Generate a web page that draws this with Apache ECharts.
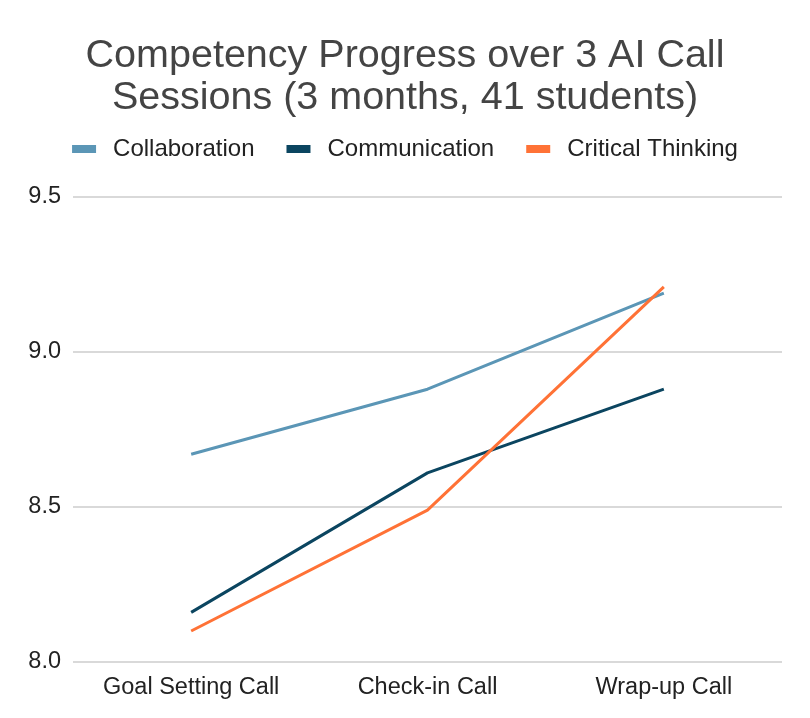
<!DOCTYPE html>
<html>
<head>
<meta charset="utf-8">
<script src="https://cdn.jsdelivr.net/npm/echarts@6/dist/echarts.min.js"></script>
<style>
  html, body { margin: 0; padding: 0; background: #fff; }
  #chart { width: 810px; height: 718px; }
</style>
</head>
<body>
<div id="chart"></div>
<script>
// categories and series values
const sessions = ['Goal Setting Call', 'Check-in Call', 'Wrap-up Call']
const collaboration = [8.67, 8.88, 9.19]
const communication = [8.16, 8.61, 8.88]
const criticalThinking = [8.10, 8.49, 9.21]

const font = 'Liberation Sans, Arial, sans-serif'

const chart = echarts.init(document.getElementById('chart'))

function line(name, data, color) {
  return {
    name: name,
    type: 'line',
    data: data,
    symbol: 'none',
    lineStyle: { width: 3, color: color },
    itemStyle: { color: color }
  }
}

chart.setOption({
  animation: false,
  title: {
    text: 'Competency Progress over 3 AI Call\nSessions (3 months, 41 students)',
    left: 'center',
    top: 30,
    textStyle: {
      fontFamily: font,
      fontSize: 39.5,
      fontWeight: 'normal',
      color: '#444',
      lineHeight: 42
    }
  },
  legend: {
    top: 132,
    left: 'center',
    icon: 'rect',
    itemWidth: 24,
    itemHeight: 8,
    itemGap: 32,
    textStyle: { fontFamily: font, fontSize: 24, color: '#222', padding: [0, 0, 0, 12] },
    data: ['Collaboration', 'Communication', 'Critical Thinking']
  },
  grid: { left: 73, right: 28, top: 197, bottom: 56 },
  xAxis: {
    type: 'category',
    data: sessions,
    boundaryGap: true,
    axisLine: { show: false },
    axisTick: { show: false },
    axisLabel: { fontFamily: font, fontSize: 23.5, color: '#222', margin: 14 }
  },
  yAxis: {
    type: 'value',
    min: 8.0,
    max: 9.5,
    interval: 0.5,
    axisLine: { show: false },
    axisTick: { show: false },
    axisLabel: {
      fontFamily: font,
      fontSize: 23.5,
      color: '#222',
      margin: 12,
      formatter: function (v) { return v.toFixed(1) }
    },
    splitLine: { lineStyle: { color: '#ccc', width: 1.5 } }
  },
  series: [
    line('Collaboration', collaboration, '#5b96b6'),
    line('Communication', communication, '#0b4560'),
    line('Critical Thinking', criticalThinking, '#ff7236')
  ]
})
</script>
</body>
</html>
